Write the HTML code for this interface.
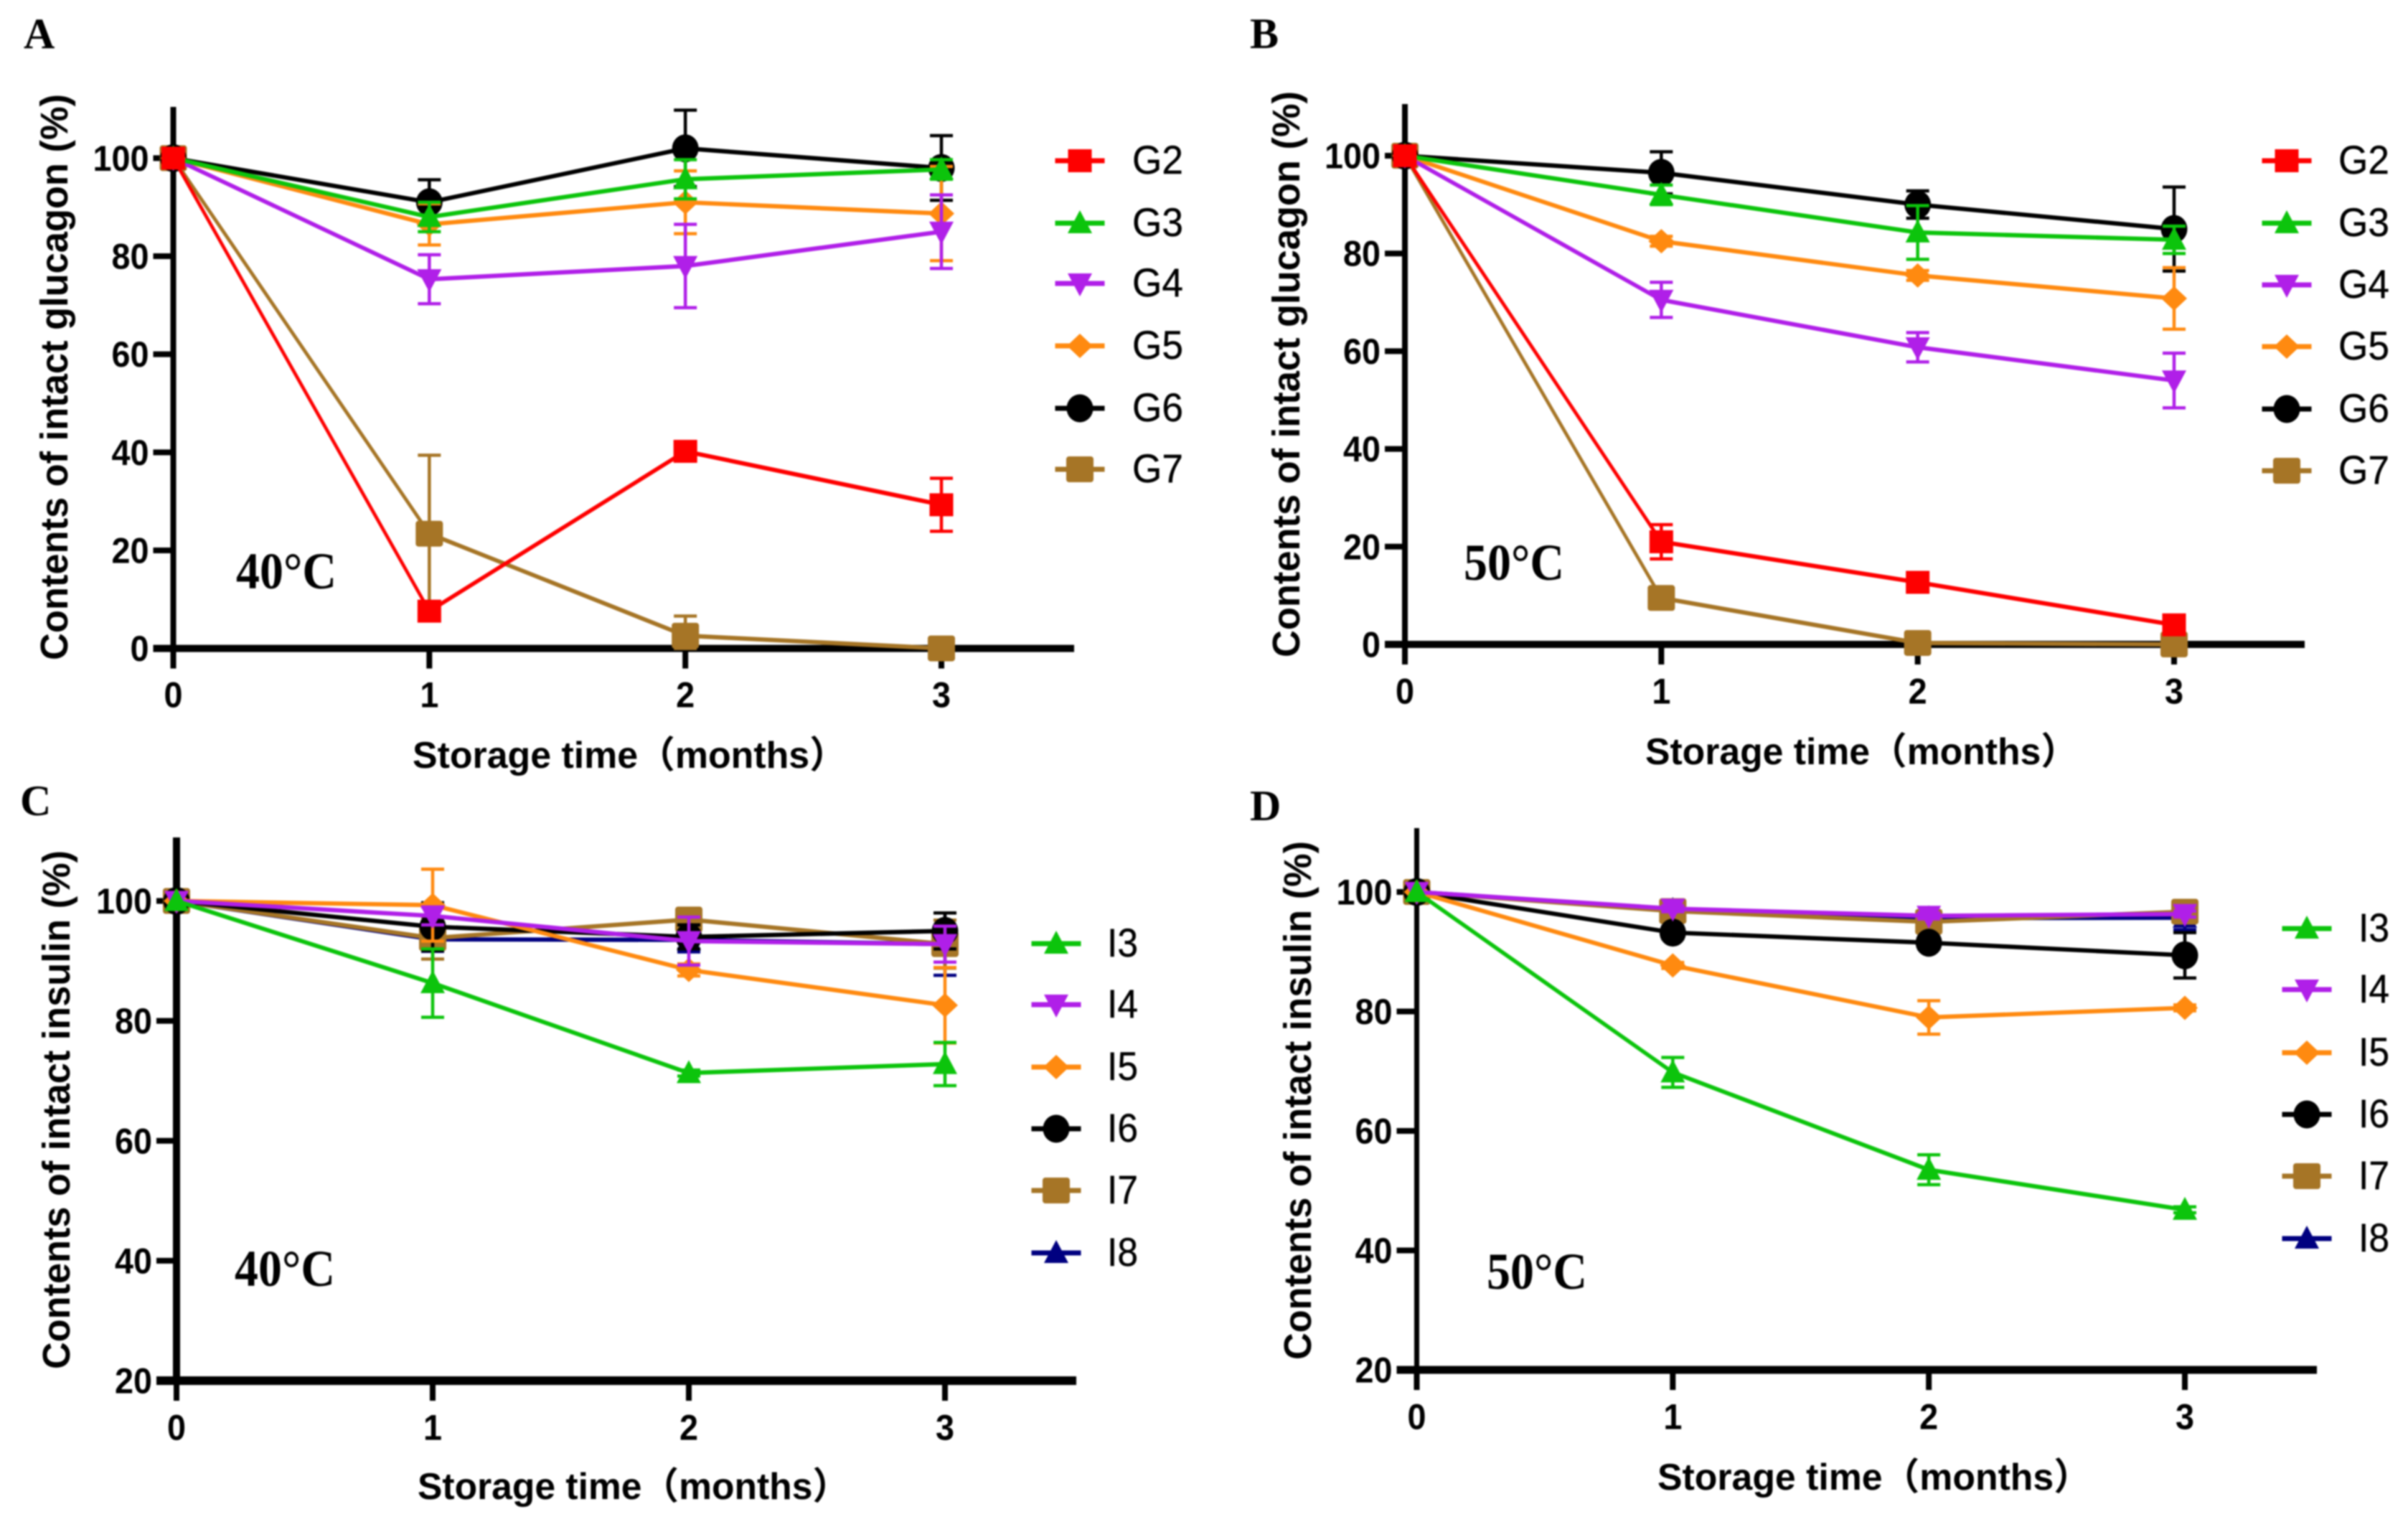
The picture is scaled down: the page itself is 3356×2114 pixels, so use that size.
<!DOCTYPE html>
<html lang="en">
<head>
<meta charset="utf-8">
<title>Contents of intact glucagon and insulin during storage</title>
<style>
html,body{margin:0;padding:0;background:#fff;}
svg{display:block;filter:blur(1px);}
text{fill:#000;}
.tick{font:bold 50px "Liberation Sans",sans-serif;}
.legend{font:56px "Liberation Sans",sans-serif;stroke:#000;stroke-width:.4px;}
.xtitle{font:bold 52px "Liberation Sans","Noto Sans CJK SC",sans-serif;}
.ytitle{font:bold 54px "Liberation Sans",sans-serif;}
.temp{font:bold 72px "Liberation Serif",serif;}
.letter{font:bold 60px "Liberation Serif",serif;}
</style>
</head>
<body>
<svg id="figure" xmlns="http://www.w3.org/2000/svg" width="3356" height="2114" viewBox="0 0 3356 2114">
<rect width="3356" height="2114" fill="#ffffff"/>
</svg>
<script>
/* shared categories and tick labels */
const months = [0, 1, 2, 3];
const glucagonTicks = [0, 20, 40, 60, 80, 100];
const insulinTicks = [20, 40, 60, 80, 100];

/* Panel A: glucagon 40C */
const aG2 = [100, 7.6, 40.2, 29.3];
const aG3 = [100, 88, 95.7, 97.7];
const aG4 = [100, 75.3, 78, 85];
const aG5 = [100, 86.5, 91, 88.7];
const aG6 = [100, 91, 102, 98];
const aG7 = [100, 23.4, 2.6, 0];
const aG2Err = [0, 1, 1.5, 5.4];
const aG3Err = [0, 3, 4, 2];
const aG4Err = [0, 5, 8.5, 7.5];
const aG5Err = [0, 4.2, 6.4, 9.6];
const aG6Err = [0, 4.6, 7.8, 6.6];
const aG7Err = [0, 16, 4, 0];

/* Panel B: glucagon 50C */
const bG2 = [100, 21, 12.7, 4];
const bG3 = [100, 92, 84.3, 82.8];
const bG4 = [100, 70.5, 60.8, 54];
const bG5 = [100, 82.5, 75.5, 70.8];
const bG6 = [100, 96.5, 90, 85];
const bG7 = [100, 9.5, 0.3, 0];
const bG2Err = [0, 3.5, 1, 0.5];
const bG3Err = [0, 2, 5.5, 2.8];
const bG4Err = [0, 3.6, 3, 5.6];
const bG5Err = [0, 1, 1, 6.3];
const bG6Err = [0, 4.3, 2.8, 8.6];
const bG7Err = [0, 0, 0, 0];

/* Panel C: insulin 40C */
const cI3 = [100, 86.3, 71.3, 72.8];
const cI4 = [100, 97.5, 93.3, 92.8];
const cI5 = [100, 99.3, 88.5, 82.6];
const cI6 = [100, 95.7, 94, 95];
const cI7 = [100, 93.8, 96.9, 92.8];
const cI8 = [100, 93.6, 93.5, 92.8];
const cI3Err = [0, 5.7, 0.5, 3.6];
const cI4Err = [0, 1.5, 4, 3];
const cI5Err = [0, 6, 1, 6.3];
const cI6Err = [0, 4, 2, 3];
const cI7Err = [0, 3.5, 1, 4];
const cI8Err = [0, 2, 2, 5.2];

/* Panel D: insulin 50C */
const dI3 = [100, 69.8, 53.5, 46.8];
const dI4 = [100, 97.2, 96, 96.3];
const dI5 = [100, 87.7, 79, 80.6];
const dI6 = [100, 93.2, 91.5, 89.4];
const dI7 = [100, 96.8, 95, 96.7];
const dI8 = [100, 97, 95.6, 95.7];
const dI3Err = [0, 2.5, 2.5, 0.5];
const dI4Err = [0, 0.5, 0.5, 0.5];
const dI5Err = [0, 0.5, 2.8, 0.5];
const dI6Err = [0, 1, 1, 3.8];
const dI7Err = [0, 0.5, 0.5, 0.5];
const dI8Err = [0, 0.5, 0.5, 2];

const RED = '#fe0000', GREEN = '#0cc40c', PURPLE = '#b01fe8', ORANGE = '#ff8a10', BLACK = '#000000', BROWN = '#a67526', NAVY = '#000080';
const svg = document.getElementById('figure');
const NS = 'http://www.w3.org/2000/svg';
const STRETCH = 1.45;

function make(tag, attrs, parent, content) {
  const node = document.createElementNS(NS, tag);
  for (const k in attrs) node.setAttribute(k, attrs[k]);
  if (content !== undefined) node.textContent = content;
  parent.appendChild(node);
  return node;
}

function drawMarker(parent, kind, cx, cy, color, seriesName) {
  let m;
  if (kind === 'square') {
    m = make('rect', {x: cx - 16.5, y: cy - 16, width: 33, height: 32, fill: color}, parent);
  } else if (kind === 'roundsquare') {
    m = make('rect', {x: cx - 19, y: cy - 18, width: 38, height: 36, rx: 4, fill: color}, parent);
  } else if (kind === 'circle') {
    m = make('ellipse', {cx: cx, cy: cy, rx: 18.5, ry: 19.5, fill: color}, parent);
  } else if (kind === 'up') {
    m = make('polygon', {points: (cx - 17) + ',' + (cy + 14) + ' ' + (cx + 17) + ',' + (cy + 14) + ' ' + cx + ',' + (cy - 18), fill: color}, parent);
  } else if (kind === 'down') {
    m = make('polygon', {points: (cx - 17) + ',' + (cy - 14) + ' ' + (cx + 17) + ',' + (cy - 14) + ' ' + cx + ',' + (cy + 18), fill: color}, parent);
  } else {
    m = make('polygon', {points: (cx - 18) + ',' + cy + ' ' + cx + ',' + (cy - 17) + ' ' + (cx + 18) + ',' + cy + ' ' + cx + ',' + (cy + 17), fill: color}, parent);
  }
  
  
}

function drawPanel(p) {
  const group = make('g', {}, svg);
  
  

  const xScale = function (v) { return p.x0 + (p.x3 - p.x0) * (v - months[0]) / (months[months.length - 1] - months[0]); };
  const yScale = function (v) { return p.yLow + (p.yHigh - p.yLow) * (v - p.vLow) / (p.vHigh - p.vLow); };

  const letter = make('text', {x: p.letterX, y: p.letterY, class: 'letter'}, group, p.letter);
  
  

  /* axes */
  const yAxis = make('line', {x1: p.x0, x2: p.x0, y1: p.yTop, y2: p.yLow + 4, stroke: '#000', 'stroke-width': p.yAxisW}, group);
  
  
  const xAxis = make('line', {x1: p.x0 - 28, x2: p.xEnd, y1: p.yLow, y2: p.yLow, stroke: '#000', 'stroke-width': p.xAxisW}, group);
  
  

  p.yTicks.forEach(function (t) {
    const tick = make('line', {x1: p.x0 - 28, x2: p.x0, y1: yScale(t), y2: yScale(t), stroke: '#000', 'stroke-width': 8}, group);
    
    
    const s = String(t);
    const label = make('text', {x: p.x0 - 34, y: yScale(t) + 17.5, 'text-anchor': 'end', class: 'tick', textLength: s.length * 26, lengthAdjust: 'spacingAndGlyphs'}, group, s);
    
    
  });
  months.forEach(function (t) {
    const tick = make('line', {x1: xScale(t), x2: xScale(t), y1: p.yLow, y2: p.yLow + 28, stroke: '#000', 'stroke-width': 8}, group);
    
    
    const label = make('text', {x: xScale(t), y: p.xLabelY + 17.5, 'text-anchor': 'middle', class: 'tick', textLength: 26, lengthAdjust: 'spacingAndGlyphs'}, group, String(t));
    
    
  });

  /* titles */
  const xTitle = make('text', {x: p.xTitleX, y: p.xTitleY + 18, class: 'xtitle', textLength: p.xTitleLen + 34, lengthAdjust: 'spacingAndGlyphs'}, group, 'Storage time\uFF08months\uFF09');
  
  
  const yTitle = make('text', {transform: 'translate(' + (p.yTitleX + 16) + ',' + p.yTitleBottom + ') rotate(-90)', class: 'ytitle', textLength: p.yTitleLen, lengthAdjust: 'spacingAndGlyphs'}, group, p.yTitle);
  
  
  const temp = make('text', {x: p.tempX, y: p.tempY + 25, class: 'temp', textLength: 140, lengthAdjust: 'spacingAndGlyphs'}, group, p.temp);
  
  

  /* series, drawn back to front */
  p.series.slice().reverse().forEach(function (s) {
    const sg = make('g', {}, group);
    
    
    const pts = months.map(function (m, i) { return xScale(m) + ',' + (yScale(s.values[i]) / STRETCH); }).join(' ');
    const line = make('polyline', {points: pts, transform: 'scale(1,' + STRETCH + ')', fill: 'none', stroke: s.color, 'stroke-width': 4.2}, sg);
    
    
    months.forEach(function (m, i) {
      const e = s.err[i];
      if (e > 0) {
        const cx = xScale(m), up = yScale(s.values[i] + e), dn = yScale(Math.max(s.values[i] - e, p.vLow));
        const bar = make('path', {d: 'M' + cx + ' ' + up + 'V' + dn + 'M' + (cx - 16) + ' ' + up + 'H' + (cx + 16) + 'M' + (cx - 16) + ' ' + dn + 'H' + (cx + 16), fill: 'none', stroke: s.color, 'stroke-width': 4.5}, sg);
        
        
      }
      drawMarker(sg, s.kind, xScale(m), yScale(s.values[i]), s.color, s.name);
    });
  });

  /* legend */
  p.series.forEach(function (s, i) {
    const ly = p.legendY[i];
    const lg = make('g', {}, group);
    
    
    const sample = make('line', {x1: p.legendX - 34.5, x2: p.legendX + 34.5, y1: ly, y2: ly, stroke: s.color, 'stroke-width': 7}, lg);
    
    
    drawMarker(lg, s.kind, p.legendX, ly, s.color, s.name);
    const t = make('text', {x: p.legendTextX - 2, y: ly + 18, class: 'legend', textLength: s.name.charAt(0) === 'G' ? 71 : 43, lengthAdjust: 'spacingAndGlyphs'}, lg, s.name);
    
    
  });
}

drawPanel({
  letter: 'A', letterX: 33, letterY: 67,
  x0: 241.5, x3: 1312, xEnd: 1497, yLow: 903.6, yHigh: 220.4, vLow: 0, vHigh: 100, yTop: 149,
  yAxisW: 8, xAxisW: 10, yTicks: glucagonTicks, xLabelY: 968,
  xTitleX: 575, xTitleY: 1052, xTitleLen: 571,
  yTitle: 'Contents of intact glucagon (%)', yTitleX: 78, yTitleBottom: 920, yTitleLen: 789,
  temp: '40\u00B0C', tempX: 329, tempY: 795,
  legendX: 1505, legendTextX: 1580, legendY: [224, 311, 395, 482, 569, 654],
  series: [
    {name: 'G2', color: RED, kind: 'square', values: aG2, err: aG2Err},
    {name: 'G3', color: GREEN, kind: 'up', values: aG3, err: aG3Err},
    {name: 'G4', color: PURPLE, kind: 'down', values: aG4, err: aG4Err},
    {name: 'G5', color: ORANGE, kind: 'diamond', values: aG5, err: aG5Err},
    {name: 'G6', color: BLACK, kind: 'circle', values: aG6, err: aG6Err},
    {name: 'G7', color: BROWN, kind: 'roundsquare', values: aG7, err: aG7Err}
  ]
});

drawPanel({
  letter: 'B', letterX: 1742, letterY: 67,
  x0: 1958, x3: 3030, xEnd: 3212, yLow: 898, yHigh: 217, vLow: 0, vHigh: 100, yTop: 145,
  yAxisW: 8, xAxisW: 10, yTicks: glucagonTicks, xLabelY: 963,
  xTitleX: 2293, xTitleY: 1047, xTitleLen: 569,
  yTitle: 'Contents of intact glucagon (%)', yTitleX: 1795, yTitleBottom: 916, yTitleLen: 789,
  temp: '50\u00B0C', tempX: 2040, tempY: 783,
  legendX: 3187, legendTextX: 3261, legendY: [224, 311, 397, 483, 570, 656],
  series: [
    {name: 'G2', color: RED, kind: 'square', values: bG2, err: bG2Err},
    {name: 'G3', color: GREEN, kind: 'up', values: bG3, err: bG3Err},
    {name: 'G4', color: PURPLE, kind: 'down', values: bG4, err: bG4Err},
    {name: 'G5', color: ORANGE, kind: 'diamond', values: bG5, err: bG5Err},
    {name: 'G6', color: BLACK, kind: 'circle', values: bG6, err: bG6Err},
    {name: 'G7', color: BROWN, kind: 'roundsquare', values: bG7, err: bG7Err}
  ]
});

drawPanel({
  letter: 'C', letterX: 28, letterY: 1136,
  x0: 246, x3: 1317, xEnd: 1500, yLow: 1924, yHigh: 1255.5, vLow: 20, vHigh: 100, yTop: 1167,
  yAxisW: 10, xAxisW: 12, yTicks: insulinTicks, xLabelY: 1989,
  xTitleX: 582, xTitleY: 2071, xTitleLen: 568,
  yTitle: 'Contents of intact insulin (%)', yTitleX: 81, yTitleBottom: 1908, yTitleLen: 723,
  temp: '40\u00B0C', tempX: 327, tempY: 1767,
  legendX: 1472, legendTextX: 1545, legendY: [1315, 1400, 1487, 1573, 1659, 1746],
  series: [
    {name: 'I3', color: GREEN, kind: 'up', values: cI3, err: cI3Err},
    {name: 'I4', color: PURPLE, kind: 'down', values: cI4, err: cI4Err},
    {name: 'I5', color: ORANGE, kind: 'diamond', values: cI5, err: cI5Err},
    {name: 'I6', color: BLACK, kind: 'circle', values: cI6, err: cI6Err},
    {name: 'I7', color: BROWN, kind: 'roundsquare', values: cI7, err: cI7Err},
    {name: 'I8', color: NAVY, kind: 'up', values: cI8, err: cI8Err}
  ]
});

drawPanel({
  letter: 'D', letterX: 1742, letterY: 1143,
  x0: 1974.5, x3: 3045, xEnd: 3229, yLow: 1909, yHigh: 1243, vLow: 20, vHigh: 100, yTop: 1154,
  yAxisW: 7, xAxisW: 11, yTicks: insulinTicks, xLabelY: 1974,
  xTitleX: 2310, xTitleY: 2058, xTitleLen: 570,
  yTitle: 'Contents of intact insulin (%)', yTitleX: 1811, yTitleBottom: 1895, yTitleLen: 723,
  temp: '50\u00B0C', tempX: 2072, tempY: 1771,
  legendX: 3215, legendTextX: 3289, legendY: [1294, 1379, 1467, 1553, 1639, 1726],
  series: [
    {name: 'I3', color: GREEN, kind: 'up', values: dI3, err: dI3Err},
    {name: 'I4', color: PURPLE, kind: 'down', values: dI4, err: dI4Err},
    {name: 'I5', color: ORANGE, kind: 'diamond', values: dI5, err: dI5Err},
    {name: 'I6', color: BLACK, kind: 'circle', values: dI6, err: dI6Err},
    {name: 'I7', color: BROWN, kind: 'roundsquare', values: dI7, err: dI7Err},
    {name: 'I8', color: NAVY, kind: 'up', values: dI8, err: dI8Err}
  ]
});
</script>
</body>
</html>
